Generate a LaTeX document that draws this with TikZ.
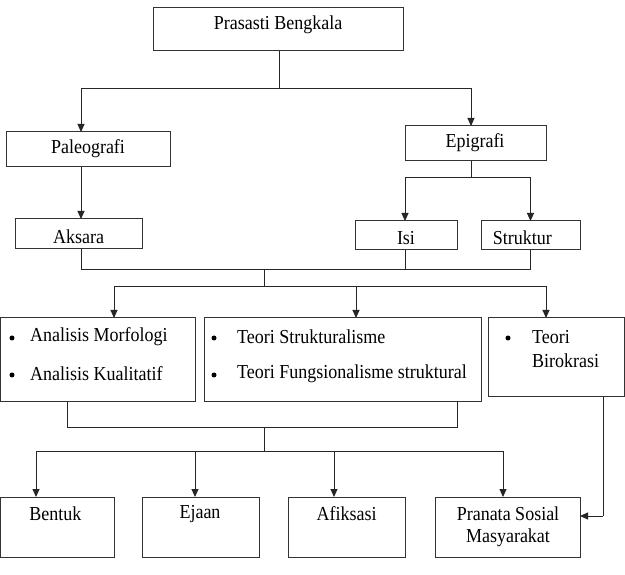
\documentclass[tikz,border=0pt]{standalone}
\usepackage{fontspec}
\usepackage{graphicx}
\setmainfont{Liberation Serif}
\usetikzlibrary{arrows.meta}
\newcommand\tallt[1]{\scalebox{1}[1.1]{#1}}
\begin{document}
\begin{tikzpicture}[x=1pt,y=-1pt,
  box/.style={draw=black!80,line width=1pt,inner sep=0pt,outer sep=0pt,rectangle},
  lbl/.style={inner sep=0pt,font=\fontsize{18}{22}\selectfont,text=black},
  bul/.style={circle,fill=black,inner sep=0pt,minimum size=5pt},
  ln/.style={draw=black!85,line width=1pt},
  arr/.style={ln,-{Triangle[length=8pt,width=7pt]}}]
\useasboundingbox (0,0) rectangle (625,575);
% boxes
\node[box,minimum width=250pt,minimum height=43pt] (top) at (278,29.5) {};
\node[box,minimum width=164pt,minimum height=35pt] (paleo) at (88,149.5) {};
\node[box,minimum width=141pt,minimum height=35pt] (epi) at (475.5,143.5) {};
\node[box,minimum width=127pt,minimum height=30pt] (aksara) at (78.5,234) {};
\node[box,minimum width=102pt,minimum height=29pt] (isi) at (406,235.5) {};
\node[box,minimum width=99pt,minimum height=29pt] (struk) at (530.5,235.5) {};
\node[box,minimum width=195pt,minimum height=84pt] (ba) at (97.75,360) {};
\node[box,minimum width=277pt,minimum height=84pt] (bb) at (342.5,360) {};
\node[box,minimum width=136.5pt,minimum height=79pt] (bc) at (556.25,357.5) {};
\node[box,minimum width=113.5pt,minimum height=60pt] (bentuk) at (57.25,527) {};
\node[box,minimum width=117pt,minimum height=60pt] (ejaan) at (200.5,527) {};
\node[box,minimum width=117pt,minimum height=60pt] (afiks) at (346.5,527) {};
\node[box,minimum width=145pt,minimum height=60pt] (pranata) at (507.5,527) {};
% texts
\node[lbl] (ttop) at (278,25) {\tallt{Prasasti Bengkala}};
\node[lbl] (tpaleo) at (88,149) {\tallt{Paleografi}};
\node[lbl] (tepi) at (475,143) {\tallt{Epigrafi}};
\node[lbl] (taksara) at (78.6,237) {\tallt{Aksara}};
\node[lbl] (tisi) at (406,238) {\tallt{Isi}};
\node[lbl] (tstruk) at (522.4,238) {\tallt{Struktur}};
\node[bul] (ba1) at (12,338) {};
\node[lbl,anchor=west] (ba1t) at (30,337) {\tallt{Analisis Morfologi}};
\node[bul] (ba2) at (12,375) {};
\node[lbl,anchor=west] (ba2t) at (30,374) {\tallt{Analisis Kualitatif}};
\node[bul] (bb1) at (214,338) {};
\node[lbl,anchor=west] (bb1t) at (237,337) {\tallt{Teori Strukturalisme}};
\node[bul] (bb2) at (214,375) {};
\node[lbl,anchor=west] (bb2t) at (237,374) {\tallt{Teori Fungsionalisme struktural}};
\node[bul] (bc1) at (508,338) {};
\node[lbl,anchor=west] (bc1t) at (532,337) {\tallt{Teori}};
\node[lbl,anchor=west] (bc2t) at (532,361) {\tallt{Birokrasi}};
\node[lbl] (tbentuk) at (55.4,514) {\tallt{Bentuk}};
\node[lbl] (tejaan) at (200,514) {\tallt{Ejaan}};
\node[lbl] (tafiks) at (346.6,514) {\tallt{Afiksasi}};
\node[lbl] (tpran1) at (508,514) {\tallt{Pranata Sosial}};
\node[lbl] (tpran2) at (508,538) {\tallt{Masyarakat}};
% junctions
\coordinate (j1) at (279,89);
\coordinate (j2) at (471,178);
\coordinate (j3) at (264,270);
\coordinate (j4) at (264,287);
\coordinate (j5) at (264,427);
\coordinate (j6) at (264,451);
\coordinate (j7) at (603,516);
% connectors
\draw[ln] ([xshift=1pt]top.south) -- (j1);
\draw[arr] (j1) -| ([xshift=-7pt]paleo.north);
\draw[arr] (j1) -| ([xshift=-4.5pt]epi.north);
\draw[arr] ([xshift=-7pt]paleo.south) -- ([xshift=2.5pt]aksara.north);
\draw[ln] ([xshift=-4.5pt]epi.south) -- (j2);
\draw[arr] (j2) -| ([xshift=-1pt]isi.north);
\draw[arr] (j2) -| (struk.north);
\draw[ln] ([xshift=2.5pt]aksara.south) |- (j3);
\draw[ln] ([xshift=-1pt]isi.south) |- (j3);
\draw[ln] (struk.south) |- (j3);
\draw[ln] (j3) -- (j4);
\draw[arr] (j4) -| ([xshift=16.25pt]ba.north);
\draw[arr] (j4) -| ([xshift=13.5pt]bb.north);
\draw[arr] (j4) -| ([xshift=-10.25pt]bc.north);
\draw[ln] ([xshift=-30.75pt]ba.south) |- (j5);
\draw[ln] ([xshift=114.5pt]bb.south) |- (j5);
\draw[ln] (j5) -- (j6);
\draw[arr] (j6) -| ([xshift=-21.25pt]bentuk.north);
\draw[arr] (j6) -| ([xshift=-5.5pt]ejaan.north);
\draw[arr] (j6) -| ([xshift=-12.5pt]afiks.north);
\draw[arr] (j6) -| ([xshift=-4.5pt]pranata.north);
\draw[ln] ([xshift=46.75pt]bc.south) -- (j7);
\draw[arr] (j7) -- ([yshift=11pt]pranata.east);
\end{tikzpicture}
\end{document}
